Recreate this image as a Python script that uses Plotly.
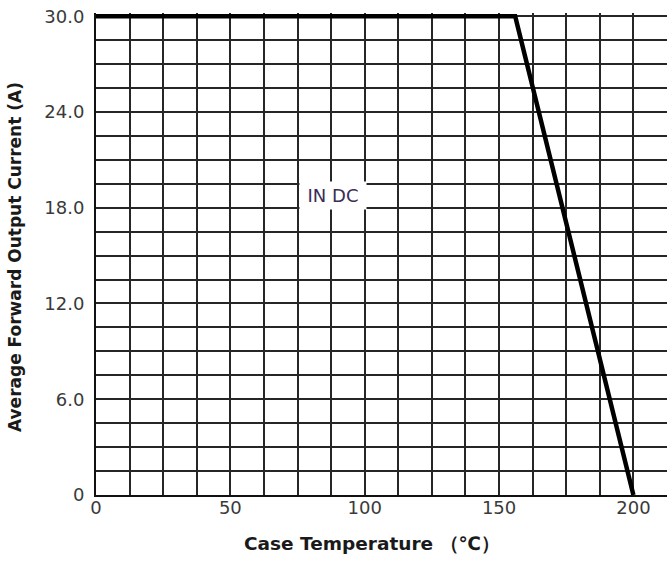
import plotly.graph_objects as go

# Derating curve (case temperature in degC vs average forward current in A)
temp_c = [0, 156, 200]
current_a = [30.0, 30.0, 0.0]

x_tick_vals = [0, 50, 100, 150, 200]
x_tick_text = ["0", "50", "100", "150", "200"]
y_tick_vals = [0, 6, 12, 18, 24, 30]
y_tick_text = ["0", "6.0", "12.0", "18.0", "24.0", "30.0"]

label_text = "IN DC"
label_pos = (88.2, 18.75)

x_title = "Case Temperature （℃）"
y_title = "Average Forward Output Current (A)"

GRID = "#262626"
TICKFONT = dict(family="DejaVu Sans, Arial, sans-serif", size=18, color="#3a3a3a")

fig = go.Figure()
fig.add_trace(go.Scatter(
    x=temp_c, y=current_a, mode="lines",
    line=dict(color="#000000", width=4.5),
    showlegend=False, hoverinfo="skip",
))

fig.add_annotation(
    x=label_pos[0], y=label_pos[1], xref="x", yref="y",
    text=label_text, showarrow=False,
    font=dict(family="DejaVu Sans, Arial, sans-serif", size=18, color="#3b2d55"),
    xanchor="center", yanchor="middle",
    bgcolor="white", width=64, height=25, align="center", valign="middle",
)
fig.add_annotation(
    x=0.483, y=-0.1, xref="paper", yref="paper",
    text="<b>" + x_title + "</b>", showarrow=False,
    font=dict(family="DejaVu Sans, Arial, sans-serif", size=18.5, color="#1a1a1a"),
    xanchor="center", yanchor="middle",
)
fig.add_annotation(
    x=-0.1427, y=0.4927, xref="paper", yref="paper",
    text="<b>" + y_title + "</b>", showarrow=False, textangle=-90,
    font=dict(family="DejaVu Sans, Arial, sans-serif", size=17, color="#1a1a1a"),
    xanchor="center", yanchor="middle",
)

fig.update_xaxes(
    range=[0, 212.5],
    tickvals=x_tick_vals, ticktext=x_tick_text,
    tickfont=TICKFONT, ticks="", ticklabelstandoff=-5,
    showgrid=True, gridcolor=GRID, gridwidth=2,
    minor=dict(tick0=0, dtick=12.5, showgrid=True, gridcolor=GRID, gridwidth=2, ticks=""),
    zeroline=False, showline=True, linecolor="#111111", linewidth=2,
)
fig.update_yaxes(
    range=[0, 30.2],
    tickvals=y_tick_vals, ticktext=y_tick_text,
    tickfont=TICKFONT, ticks="", ticklabelstandoff=6,
    showgrid=True, gridcolor=GRID, gridwidth=2,
    minor=dict(tick0=0, dtick=1.5, showgrid=True, gridcolor=GRID, gridwidth=2, ticks=""),
    zeroline=False, showline=True, linecolor="#111111", linewidth=2,
)

fig.update_layout(
    width=667, height=561,
    margin=dict(l=96, r=0, t=13, b=66),
    plot_bgcolor="white", paper_bgcolor="white",
    showlegend=False,
)

fig.write_html("out.html")
